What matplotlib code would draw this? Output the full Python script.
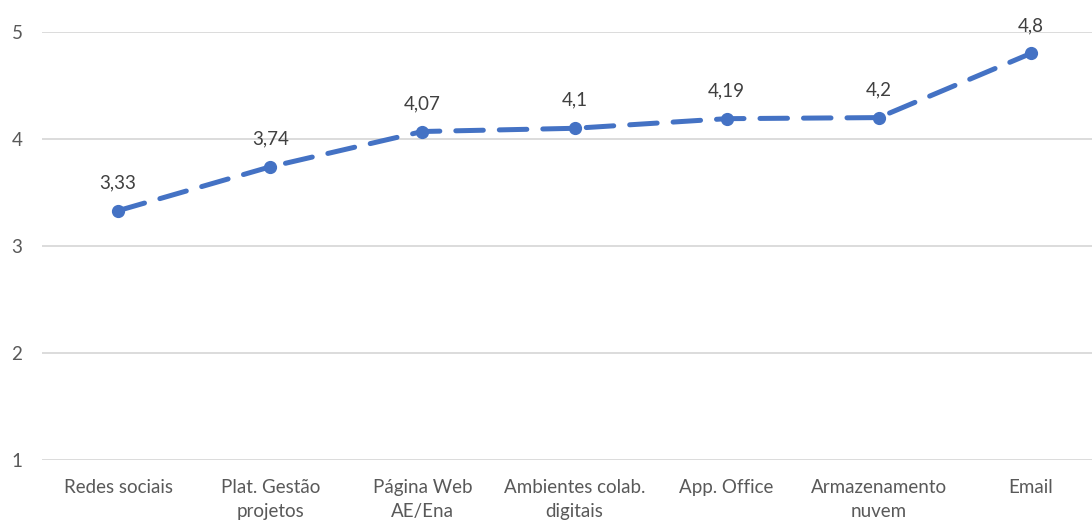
import matplotlib
matplotlib.use("Agg")
import matplotlib.pyplot as plt

categories = ["Redes sociais", "Plat. Gestão\nprojetos", "Página Web\nAE/Ena",
              "Ambientes colab.\ndigitais", "App. Office", "Armazenamento\nnuvem", "Email"]
values = [3.33, 3.74, 4.07, 4.1, 4.19, 4.2, 4.8]
value_labels = ["3,33", "3,74", "4,07", "4,1", "4,19", "4,2", "4,8"]
yticks = [1, 2, 3, 4, 5]

plt.rcParams['font.family'] = ['Lato', 'DejaVu Sans']
fig = plt.figure(figsize=(10.92, 5.23), dpi=100)
ax = fig.add_axes([42/1092, 63/523, 1065/1092, 428/523])

x = list(range(len(categories)))
color = "#4472C4"
ax.plot(x, values, color=color, lw=3.6, linestyle=(0, (5.5, 3.2)),
        marker="o", markersize=8.5, dash_capstyle="round", zorder=3)
for xi, v, lab in zip(x, values, value_labels):
    ax.annotate(lab, (xi, v), xytext=(0, 14), textcoords="offset points",
                ha="center", va="bottom", fontsize=13.5, color="#404040")

ax.set_xlim(-0.5, 6.5)
ax.set_ylim(1, 5)
ax.set_yticks(yticks)
ax.set_yticklabels([str(t) for t in yticks])
ax.set_xticks(x)
ax.set_xticklabels(categories, fontsize=13.5, color="#595959", linespacing=1.5)
ax.tick_params(axis="y", labelsize=13.5, labelcolor="#595959", length=0, pad=18)
ax.tick_params(axis="x", length=0, pad=14)
ax.grid(axis="y", color="#D9D9D9", lw=1.3)
ax.set_axisbelow(True)
for s in ax.spines.values():
    s.set_visible(False)
for lab in ax.get_yticklabels():
    lab.set_horizontalalignment("center")

fig.savefig("out.png", dpi=100)
